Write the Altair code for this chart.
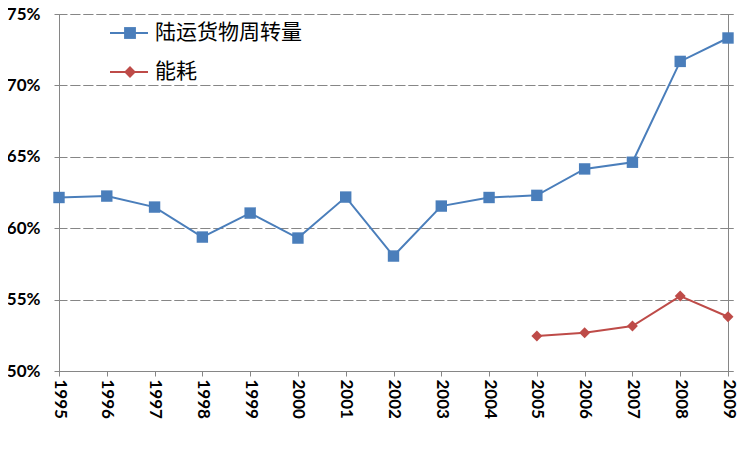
import altair as alt
import pandas as pd

years = [str(y) for y in range(1995, 2010)]
freight = [62.15, 62.25, 61.48, 59.38, 61.06, 59.31, 62.18, 58.05, 61.55, 62.15, 62.3, 64.15, 64.62, 71.68, 73.32]
energy_years = ["2005", "2006", "2007", "2008", "2009"]
energy = [52.45, 52.68, 53.15, 55.25, 53.8]
series_names = ["陆运货物周转量", "能耗"]
colors = ["#4A7EBB", "#BE4B48"]
marker_shapes = ["square", "diamond"]

rows = []
for y, v in zip(years, freight):
    rows.append({"year": y, "value": v / 100, "series": series_names[0]})
for y, v in zip(energy_years, energy):
    rows.append({"year": y, "value": v / 100, "series": series_names[1]})
df = pd.DataFrame(rows)

color_scale = alt.Scale(domain=series_names, range=colors)
lab_font = "Lato"
x_enc = alt.X("year:O", scale=alt.Scale(type="point", padding=0), sort=years,
              axis=alt.Axis(title=None, labelAngle=90, labelAlign="left", labelBaseline="middle",
                            labelFont=lab_font, labelFontWeight="bold", labelFontSize=17,
                            labelColor="#000000", labelPadding=3, tickSize=5,
                            tickColor="#868686", domainColor="#868686", grid=False))
y_enc = alt.Y("value:Q", scale=alt.Scale(domain=[0.5, 0.75], nice=False, zero=False),
              axis=alt.Axis(title=None, format=".0%", values=[0.5, 0.55, 0.6, 0.65, 0.7, 0.75],
                            labelFont=lab_font, labelFontWeight="bold", labelFontSize=17,
                            labelColor="#000000", labelPadding=14, tickSize=5,
                            tickColor="#868686", domainColor="#868686",
                            grid=True, gridColor="#868686", gridDash=[8, 5], gridWidth=1))

base = alt.Chart(df)

lines = base.mark_line(strokeWidth=2).encode(
    x=x_enc, y=y_enc,
    color=alt.Color("series:N", scale=color_scale, sort=series_names, legend=None),
    detail="series:N",
)

sq = base.transform_filter(alt.datum.series == series_names[0]).mark_point(
    shape="square", filled=True, size=130, opacity=1, color=colors[0]
).encode(x=x_enc, y=y_enc)

dia = base.transform_filter(alt.datum.series == series_names[1]).mark_point(
    shape="diamond", filled=True, size=120, opacity=1, color=colors[1]
).encode(x=x_enc, y=y_enc)

leg_df = pd.DataFrame({"series": series_names, "shape": marker_shapes, "row": [0, 1]})
leg = alt.Chart(leg_df)
leg_y = alt.Y("row:Q", scale=alt.Scale(domain=[0, 1], range=[19, 58]), axis=None)
leg_line = leg.mark_rule(strokeWidth=2).encode(
    x=alt.value(51), x2=alt.value(89), y=leg_y,
    color=alt.Color("series:N", scale=color_scale, legend=None),
)
leg_sym = leg.mark_point(filled=True, size=140, opacity=1).encode(
    x=alt.value(71), y=leg_y,
    shape=alt.Shape("shape:N", scale=None),
    color=alt.Color("series:N", scale=color_scale, legend=None),
)
leg_txt = leg.mark_text(align="left", baseline="middle", font="Noto Sans CJK SC",
                        fontSize=21, color="#000000").encode(
    x=alt.value(96), y=leg_y, text="series:N",
)

chart = alt.layer(lines, sq, dia, leg_line, leg_sym, leg_txt).resolve_scale(y="independent").properties(
    width=669, height=357,
    autosize=alt.AutoSizeParams(type="none"),
    padding={"left": 51, "top": 6, "right": 17, "bottom": 73},
    background="#ffffff",
).configure_view(stroke=None)

chart.save("out.html", embed_options={"renderer": "svg", "actions": False})
